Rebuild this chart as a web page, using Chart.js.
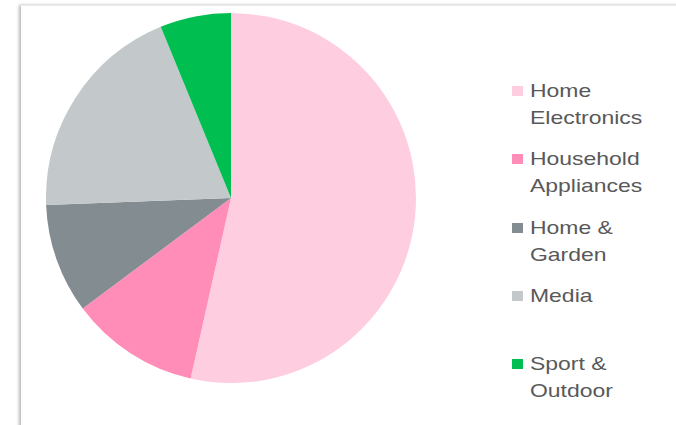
<!DOCTYPE html>
<html>
<head>
<meta charset="utf-8">
<script src="https://cdn.jsdelivr.net/npm/chart.js@4"></script>
<style>
    body { margin: 0; width: 676px; height: 425px; background: #fff; overflow: hidden; position: relative; font-family: "Liberation Sans", Arial, sans-serif; }
    #card { position: absolute; left: 21px; top: 5px; width: 670px; height: 440px; border-top: 1px solid #ececec; box-shadow: -2px 0 3px rgba(0, 0, 0, 0.28); background: #fff; }
    #wrap { position: absolute; left: 46px; top: 13px; width: 370px; height: 370px; }
    #legenda { position: absolute; left: 512px; top: 0; }
    .item { position: absolute; left: 0; white-space: nowrap; }
    .caixa { position: absolute; left: 0; width: 11px; height: 10px; top: 9px; }
    .texto { position: absolute; left: 18px; top: 0; font-size: 18.5px; line-height: 27px; color: #595959; transform: scaleX(1.24); transform-origin: 0 0; }
</style>
</head>
<body>
<div id="card"></div>
<div id="wrap"><canvas id="graficoPizza"></canvas></div>
<div id="legenda"></div>
<script>
const categorias = [["Home", "Electronics"], ["Household", "Appliances"], ["Home &", "Garden"], ["Media"], ["Sport &", "Outdoor"]];
const valores = [53.5, 11.3, 9.6, 19.4, 6.2];
const cores = ["#ffcde0", "#ff8db7", "#838c91", "#c3c8cb", "#00bf50"];
const topoLegenda = [77, 145, 214, 282, 350];

const legenda = document.getElementById("legenda");
categorias.forEach((linhas, i) => {
    const item = document.createElement("div");
    item.className = "item";
    item.style.top = topoLegenda[i] + "px";
    const caixa = document.createElement("div");
    caixa.className = "caixa";
    caixa.style.background = cores[i];
    const texto = document.createElement("div");
    texto.className = "texto";
    texto.innerHTML = linhas.join("<br>");
    item.appendChild(caixa);
    item.appendChild(texto);
    legenda.appendChild(item);
});

const ctxPizza = document.getElementById("graficoPizza").getContext("2d");
new Chart(ctxPizza, {
    type: "pie",
    data: {
        labels: categorias,
        datasets: [
            {
                data: valores,
                backgroundColor: cores,
                borderWidth: 0,
            },
        ],
    },
    options: {
        responsive: true,
        maintainAspectRatio: false,
        animation: false,
        layout: { padding: 0 },
        plugins: {
            legend: { display: false },
            tooltip: { enabled: false },
        },
    },
});
</script>
</body>
</html>
